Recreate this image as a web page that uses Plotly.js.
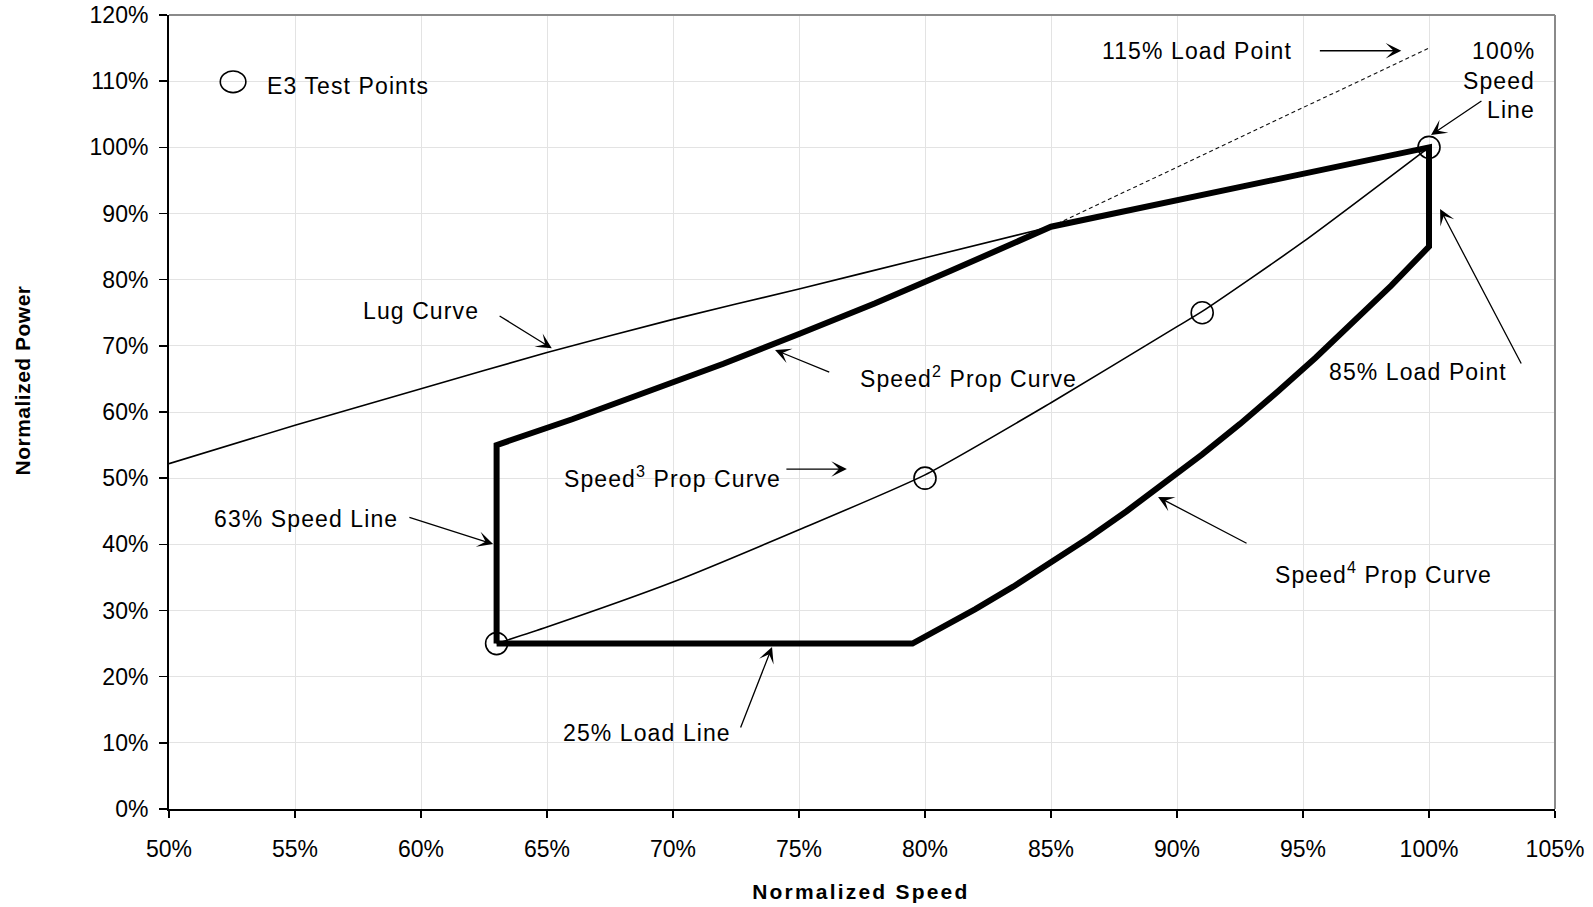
<!DOCTYPE html>
<html>
<head>
<meta charset="utf-8">
<script src="https://cdn.plot.ly/plotly-3.0.1.min.js"></script>
<style>
  html, body { margin: 0; padding: 0; background: #fff; }
  #chart { width: 1593px; height: 907px; }
  text.annotation-text { letter-spacing: 1.1px; }
  .annotation[data-index="0"] text.annotation-text { letter-spacing: 2.2px; }
  .annotation[data-index="1"] text.annotation-text { letter-spacing: 0.5px; }
  text.legendtext { letter-spacing: 1.1px; }
  .legend .legendpoints path.scatterpts {
    transform: translate(34px, -3px) scale(1.6, 1.35);
    vector-effect: non-scaling-stroke;
  }
</style>
</head>
<body>
<div id="chart"></div>
<script>
// ---- data (percent units) ----
const speedTicks = [50, 55, 60, 65, 70, 75, 80, 85, 90, 95, 100, 105];
const powerTicks = [0, 10, 20, 30, 40, 50, 60, 70, 80, 90, 100, 110, 120];

const lugSpeed = [50, 55, 60, 65, 70, 75, 80, 85];
const lugPower = [52.2, 58.0, 63.5, 69.0, 74.0, 78.6, 83.3, 88.0];

const speed63Speed = [63, 63];
const speed63Power = [25, 55];

const prop2Speed = [63, 66, 69, 72, 75, 78, 81, 85];
const prop2Power = [55, 58.9, 63.0, 67.3, 71.8, 76.4, 81.3, 88];

const lugTopSpeed = [85, 100];
const lugTopPower = [88, 100];

const speed100Speed = [100, 100];
const speed100Power = [100, 85];

const prop4Speed = [100, 98.5, 97, 95.5, 94, 92.5, 91, 89.5, 88, 86.5, 85, 83.5, 82, 80.5, 79.5];
const prop4Power = [85, 79.1, 73.5, 68.2, 63.1, 58.2, 53.6, 49.2, 45.0, 41.0, 37.2, 33.6, 30.2, 27.0, 25];

const load25Speed = [79.5, 63];
const load25Power = [25, 25];

const prop3Speed = [63, 65, 70, 75, 80, 85, 90, 91, 95, 100];
const prop3Power = [25, 27.5, 34.3, 42.2, 50.5, 61.4, 72.9, 75.2, 85.7, 100];

const overloadSpeed = [85, 100];
const overloadPower = [88, 115];

const testSpeed = [63, 80, 91, 100];
const testPower = [25, 50, 75, 100];

const speedTickText = speedTicks.map(v => v + '%');
const powerTickText = powerTicks.map(v => v + '%');

// envelope assembled from its named pieces
const envSpeed = [].concat(speed63Speed, prop2Speed.slice(1), lugTopSpeed.slice(1),
                           speed100Speed.slice(1), prop4Speed.slice(1), load25Speed.slice(1));
const envPower = [].concat(speed63Power, prop2Power.slice(1), lugTopPower.slice(1),
                           speed100Power.slice(1), prop4Power.slice(1), load25Power.slice(1));

const FONT = 'Liberation Sans, Arial, Helvetica, sans-serif';

const traces = [
  { x: overloadSpeed, y: overloadPower, mode: 'lines', name: '115% Load Line',
    line: { color: '#111', width: 1.1, dash: '4px,3px' }, showlegend: false, hoverinfo: 'skip' },
  { x: lugSpeed, y: lugPower, mode: 'lines', name: 'Lug Curve',
    line: { color: '#000', width: 1.6, shape: 'spline', smoothing: 0.6 }, showlegend: false },
  { x: prop3Speed, y: prop3Power, mode: 'lines', name: 'Speed3 Prop Curve',
    line: { color: '#000', width: 1.6, shape: 'spline', smoothing: 0.6 }, showlegend: false },
  { x: envSpeed, y: envPower, mode: 'lines', name: 'Envelope',
    line: { color: '#000', width: 6 }, showlegend: false },
  { x: testSpeed, y: testPower, mode: 'markers', name: 'E3 Test Points',
    marker: { symbol: 'circle-open', size: 22, color: '#000', line: { width: 1.6, color: '#000' } },
    showlegend: true }
];

function txt(text, x, y, xanchor) {
  return { text: text, x: x, y: y, xref: 'x', yref: 'y', showarrow: false,
           xanchor: xanchor || 'left', yanchor: 'middle',
           font: { family: FONT, size: 23, color: '#000' } };
}
function arrow(tx, ty, hx, hy) {
  return { text: '', x: hx, y: hy, ax: tx, ay: ty, xref: 'x', yref: 'y', axref: 'x', ayref: 'y',
           showarrow: true, arrowhead: 3, arrowsize: 2.0, arrowwidth: 1.3, arrowcolor: '#000', standoff: 0 };
}

const annotations = [
  { text: 'Normalized Speed', xref: 'paper', yref: 'paper', x: 0.4995, y: -0.1045,
    xanchor: 'center', yanchor: 'middle', showarrow: false,
    font: { family: FONT, size: 21, color: '#000', weight: 'bold' } },
  { text: 'Normalized Power', xref: 'paper', yref: 'paper', x: -0.106, y: 0.54,
    xanchor: 'center', yanchor: 'middle', showarrow: false, textangle: -90,
    font: { family: FONT, size: 21, color: '#000', weight: 'bold' } },
  txt('115% Load Point', 86.95, 114.6),
  txt('100%', 104.27, 114.6, 'right'),
  txt('Speed', 104.27, 110.06, 'right'),
  txt('Line', 104.27, 105.64, 'right'),
  txt('Lug Curve', 57.61, 75.26),
  txt('Speed<sup>2</sup> Prop Curve', 77.33, 65.33),
  txt('Speed<sup>3</sup> Prop Curve', 65.6, 50.17),
  txt('63% Speed Line', 51.71, 43.83),
  txt('25% Load Line', 65.56, 11.49),
  txt('85% Load Point', 95.95, 66.04),
  txt('Speed<sup>4</sup> Prop Curve', 93.81, 35.67),
  arrow(95.61, 114.6, 98.90, 114.6),
  arrow(102.14, 107.15, 100.08, 101.86),
  arrow(63.06, 74.66, 65.19, 69.62),
  arrow(76.26, 65.94, 74.05, 69.37),
  arrow(74.44, 51.38, 76.90, 51.38),
  arrow(59.48, 44.13, 62.86, 40.05),
  arrow(72.66, 12.09, 73.93, 24.48),
  arrow(103.69, 67.1, 100.44, 90.68),
  arrow(92.82, 40.05, 89.25, 47.15)
];

const axisCommon = {
  showgrid: true, gridcolor: '#e3e3e3', gridwidth: 1,
  showline: true, linecolor: '#000', linewidth: 2,
  ticks: 'outside', tickcolor: '#000', tickwidth: 1.5,
  zeroline: false,
  tickfont: { family: FONT, size: 23, color: '#000' }
};

const layout = {
  width: 1593, height: 907,
  margin: { l: 169, r: 38, t: 15, b: 98, pad: 0 },
  paper_bgcolor: '#fff', plot_bgcolor: '#fff',
  font: { family: FONT, size: 23, color: '#000' },
  xaxis: Object.assign({}, axisCommon, { range: [50, 105], tickmode: 'array',
    tickvals: speedTicks, ticktext: speedTickText, ticklen: 7, ticklabelstandoff: 11 }),
  yaxis: Object.assign({}, axisCommon, { range: [0, 120], tickmode: 'array',
    tickvals: powerTicks, ticktext: powerTickText, ticklen: 8, ticklabelstandoff: 6 }),
  showlegend: true,
  legend: { x: 0.0217, y: 0.912, xanchor: 'left', yanchor: 'middle', bgcolor: 'rgba(0,0,0,0)',
    borderwidth: 0, itemwidth: 58, font: { family: FONT, size: 23, color: '#000' } },
  shapes: [
    { type: 'line', xref: 'paper', yref: 'paper', x0: 0, x1: 1, y0: 1, y1: 1,
      line: { color: '#8a8a8a', width: 2 } },
    { type: 'line', xref: 'paper', yref: 'paper', x0: 1, x1: 1, y0: 0, y1: 1,
      line: { color: '#8a8a8a', width: 2 } }
  ],
  annotations: annotations
};

Plotly.newPlot('chart', traces, layout, { displayModeBar: false, staticPlot: true });
</script>
</body>
</html>
